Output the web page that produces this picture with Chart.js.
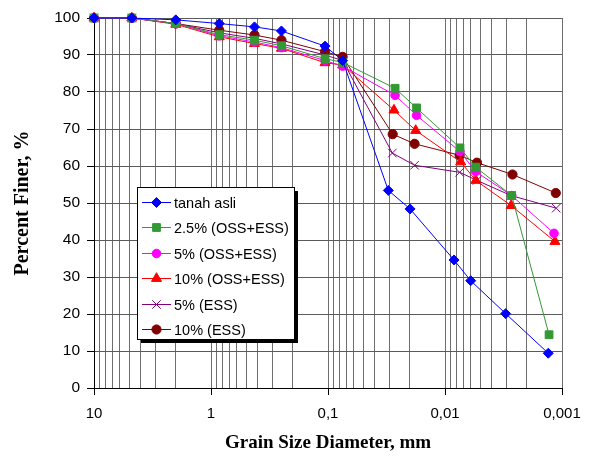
<!DOCTYPE html>
<html>
<head>
<meta charset="utf-8">
<script src="https://cdn.jsdelivr.net/npm/chart.js@4/dist/chart.umd.min.js"></script>
<style>
  body { margin: 0; background: #fff; }
</style>
</head>
<body>
<canvas id="grainChart" width="589" height="458"></canvas>
<script>
// Sieve sizes (mm) shared by all samples
var sieveSizes = [10, 4.75, 2, 0.85, 0.425, 0.25, 0.106, 0.075];

// Hydrometer diameters (mm) per sample
var hydroAsli = [0.0305, 0.0199, 0.00837, 0.00603, 0.00303, 0.00131];
var hydro25Oss = [0.0267, 0.0175, 0.00745, 0.00547, 0.00269, 0.00129];
var hydro5Oss = [0.0267, 0.0175, 0.00745, 0.00547, 0.00269, 0.00117];
var hydro10Oss = [0.0273, 0.0178, 0.00735, 0.00545, 0.00272, 0.00115];
var hydro5Ess = [0.0282, 0.0182, 0.0075, 0.00533, 0.00272, 0.00112];
var hydro10Ess = [0.0280, 0.0182, 0.0075, 0.00533, 0.00265, 0.00113];

// Percent finer, sieve part then hydrometer part
var finerAsli = [100, 100, 99.5, 98.5, 97.6, 96.5, 92.4, 88.5, 53.4, 48.4, 34.6, 29.0, 20.1, 9.4];
var finer25Oss = [100, 100, 98.5, 95.5, 94, 92.5, 89, 88, 81.0, 75.7, 64.9, 59.7, 52.0, 14.4];
var finer5Oss = [100, 100, 98.5, 95.2, 93.5, 92, 88.5, 87, 79.1, 73.7, 63.9, 58.5, 52.0, 41.8];
var finer10Oss = [100, 100, 98.3, 94.9, 93.1, 91.8, 87.9, 87.3, 75.1, 69.6, 61.1, 56.1, 49.3, 39.6];
var finer5Ess = [100, 100, 98.5, 96, 94.5, 93, 90, 88.5, 63.5, 60.2, 58.3, 56.1, 52.0, 48.6];
var finer10Ess = [100, 100, 98.5, 96.7, 95.4, 94, 90.9, 89.5, 68.6, 66.0, 62.9, 60.9, 57.7, 52.7];

var seriesNames = ['tanah asli', '2.5% (OSS+ESS)', '5% (OSS+ESS)', '10% (OSS+ESS)', '5% (ESS)', '10% (ESS)'];

// Grid positions of the log axis: 1..9 per decade
var xGridValues = [];
[-3, -2, -1, 0].forEach(function (e) {
    for (var s = 1; s <= 9; s++) xGridValues.push(+(s * Math.pow(10, e)).toPrecision(3));
});
xGridValues.push(10);

function toPoints(hydro, finer) {
    var xs = sieveSizes.concat(hydro);
    return xs.map(function (d, i) { return { x: d, y: finer[i] }; });
}

function isDecade(v) {
    var l = Math.log10(v);
    return Math.abs(l - Math.round(l)) < 1e-9;
}

var sansFont = 'Arial, "Liberation Sans", sans-serif';
var serifFont = '"Times New Roman", "Liberation Serif", serif';

var datasets = [
    { label: seriesNames[0], data: toPoints(hydroAsli, finerAsli), borderColor: '#0000FF', backgroundColor: '#0000FF', pointStyle: 'rectRot', pointRadius: 5 },
    { label: seriesNames[1], data: toPoints(hydro25Oss, finer25Oss), borderColor: '#339933', backgroundColor: '#339933', pointStyle: 'rect', pointRadius: 5.5 },
    { label: seriesNames[2], data: toPoints(hydro5Oss, finer5Oss), borderColor: '#FF00FF', backgroundColor: '#FF00FF', pointStyle: 'circle', pointRadius: 4.3 },
    { label: seriesNames[3], data: toPoints(hydro10Oss, finer10Oss), borderColor: '#FF0000', backgroundColor: '#FF0000', pointStyle: 'triangle', pointRadius: 5.8 },
    { label: seriesNames[4], data: toPoints(hydro5Ess, finer5Ess), borderColor: '#800080', backgroundColor: '#800080', pointStyle: 'crossRot', pointRadius: 6 },
    { label: seriesNames[5], data: toPoints(hydro10Ess, finer10Ess), borderColor: '#800000', backgroundColor: '#800000', pointStyle: 'circle', pointRadius: 4.6 }
];
datasets.forEach(function (ds) {
    ds.showLine = true;
    ds.borderWidth = 1;
    ds.pointBorderWidth = 1;
    ds.pointHoverRadius = ds.pointRadius;
    ds.clip = false;
});

// Boxed legend with shadow drawn inside the plot
var boxLegend = {
    id: 'boxLegend',
    afterDraw: function (chart) {
        var ctx = chart.ctx;
        var bx = 137, by = 187, bw = 157, bh = 152;
        ctx.save();
        ctx.fillStyle = '#000';
        ctx.fillRect(bx + 4, by + 4, bw, bh);
        ctx.fillStyle = '#fff';
        ctx.fillRect(bx, by, bw, bh);
        ctx.strokeStyle = '#000';
        ctx.lineWidth = 1;
        ctx.strokeRect(bx + 0.5, by + 0.5, bw, bh);
        ctx.font = '14.5px ' + sansFont;
        ctx.textBaseline = 'middle';
        ctx.textAlign = 'left';
        chart.data.datasets.forEach(function (ds, i) {
            var y = Math.round(202 + i * 25.4) + 0.5;
            ctx.strokeStyle = ds.borderColor;
            ctx.fillStyle = ds.backgroundColor;
            ctx.lineWidth = 1;
            ctx.beginPath();
            ctx.moveTo(142, y);
            ctx.lineTo(171, y);
            ctx.stroke();
            Chart.helpers.drawPoint(ctx, {
                pointStyle: ds.pointStyle, radius: ds.pointRadius, borderWidth: 1, rotation: 0
            }, 156.5, y);
            ctx.fillStyle = '#000';
            ctx.fillText(ds.label, 174, y + 1);
        });
        ctx.restore();
    }
};

var ctx = document.getElementById('grainChart').getContext('2d');
new Chart(ctx, {
    type: 'scatter',
    data: { datasets: datasets },
    options: {
        responsive: false,
        animation: false,
        layout: { padding: { top: 18, right: 27, left: 0, bottom: 0 } },
        plugins: {
            legend: { display: false },
            tooltip: { enabled: false }
        },
        scales: {
            x: {
                type: 'logarithmic',
                reverse: true,
                min: 0.001,
                max: 10,
                afterBuildTicks: function (scale) {
                    scale.ticks = xGridValues.map(function (v) { return { value: v, major: isDecade(v) }; });
                },
                afterFit: function (scale) { scale.height = 70; },
                grid: {
                    color: '#6e6e6e',
                    lineWidth: 1,
                    tickLength: 7,
                    tickColor: function (c) { return c.tick && isDecade(c.tick.value) ? '#000' : 'rgba(0,0,0,0)'; }
                },
                border: { color: '#000', width: 1 },
                ticks: {
                    autoSkip: false,
                    maxRotation: 0,
                    padding: 10,
                    color: '#000',
                    font: { family: sansFont, size: 15 },
                    callback: function (v) {
                        if (!isDecade(v)) return '';
                        return v >= 1 ? String(v) : String(v).replace('.', ',');
                    }
                },
                title: {
                    display: true,
                    text: 'Grain Size Diameter, mm',
                    color: '#000',
                    font: { family: serifFont, size: 19, weight: 'bold' },
                    padding: { top: 0, bottom: 4 }
                }
            },
            y: {
                min: 0,
                max: 100,
                afterFit: function (scale) { scale.width = 94; },
                grid: { color: '#5a5a5a', lineWidth: 1, tickLength: 7, tickColor: '#000' },
                border: { color: '#000', width: 1 },
                ticks: {
                    stepSize: 10,
                    padding: 7,
                    color: '#000',
                    font: { family: sansFont, size: 15.5 }
                },
                title: {
                    display: true,
                    text: 'Percent Finer, %',
                    color: '#000',
                    font: { family: serifFont, size: 20, weight: 'bold' },
                    padding: { top: 11, bottom: 0 }
                }
            }
        }
    },
    plugins: [boxLegend]
});
</script>
</body>
</html>
